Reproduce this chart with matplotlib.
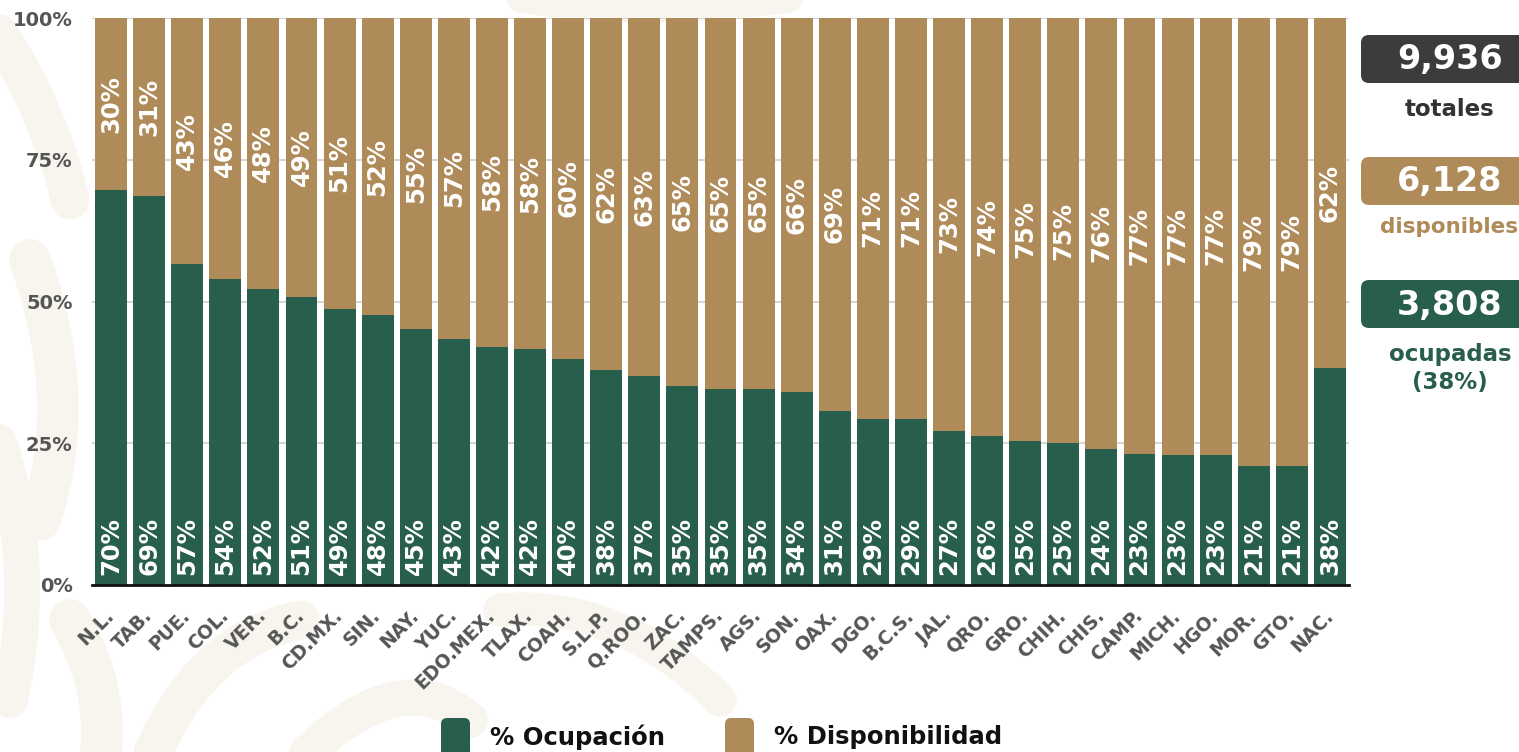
import numpy as np
import matplotlib.pyplot as plt
from matplotlib.patches import FancyBboxPatch

# datos: % de ocupación hospitalaria por entidad
estados = ['N.L.', 'TAB.', 'PUE.', 'COL.', 'VER.', 'B.C.', 'CD.MX.', 'SIN.', 'NAY.', 'YUC.',
           'EDO.MEX.', 'TLAX.', 'COAH.', 'S.L.P.', 'Q.ROO.', 'ZAC.', 'TAMPS.', 'AGS.', 'SON.',
           'OAX.', 'DGO.', 'B.C.S.', 'JAL.', 'QRO.', 'GRO.', 'CHIH.', 'CHIS.', 'CAMP.', 'MICH.',
           'HGO.', 'MOR.', 'GTO.', 'NAC.']
ocupacion = [69.7, 68.6, 56.6, 54.0, 52.2, 50.8, 48.7, 47.6, 45.1, 43.4, 42.0, 41.6, 39.9,
             37.9, 36.9, 35.1, 34.6, 34.6, 34.0, 30.7, 29.3, 29.3, 27.2, 26.3, 25.4, 25.0,
             24.0, 23.1, 23.0, 23.0, 21.0, 21.0, 38.3]
disponibilidad = [30.3, 31.4, 43.4, 46.0, 47.8, 49.2, 51.3, 52.4, 54.9, 56.6, 58.0, 58.4, 60.1,
                  62.1, 63.1, 64.9, 65.4, 65.4, 66.0, 69.3, 70.7, 70.7, 72.8, 73.7, 74.6, 75.0,
                  76.0, 76.9, 77.0, 77.0, 79.0, 79.0, 61.7]
etiq_ocup = [70, 69, 57, 54, 52, 51, 49, 48, 45, 43, 42, 42, 40, 38, 37, 35, 35, 35, 34, 31,
             29, 29, 27, 26, 25, 25, 24, 23, 23, 23, 21, 21, 38]
etiq_disp = [30, 31, 43, 46, 48, 49, 51, 52, 55, 57, 58, 58, 60, 62, 63, 65, 65, 65, 66, 69,
             71, 71, 73, 74, 75, 75, 76, 77, 77, 77, 79, 79, 62]
yticks = [0, 25, 50, 75, 100]

totales = '9,936'
disponibles = '6,128'
ocupadas = '3,808'
pct_ocupadas = '(38%)'

verde = '#285e4c'
cafe = '#b08b5a'
gris = '#555555'
crema = '#f8f5ef'

plt.rcParams['font.family'] = ['DejaVu Sans']
plt.rcParams['font.weight'] = 'bold'

fig = plt.figure(figsize=(15.19, 7.52), dpi=100)
fig.patch.set_facecolor('white')

# fondo decorativo (marca de agua, trazos suaves)
bg = fig.add_axes([0, 0, 1, 1], zorder=0)
bg.set_xlim(0, 1519)
bg.set_ylim(752, 0)
bg.axis('off')
t = np.linspace(0, 1, 60)
trazos = [
    (np.array([-10, 50, 70]), np.array([20, 110, 200]), 28),
    (np.array([30, 80, 40]), np.array([260, 400, 520]), 30),
    (np.array([-5, 40, 10]), np.array([430, 560, 700]), 26),
    (np.array([70, 110, 100]), np.array([620, 690, 760]), 30),
    (np.array([150, 200, 300]), np.array([760, 640, 620]), 28),
    (np.array([300, 400, 470]), np.array([760, 660, 720]), 26),
    (np.array([500, 620, 720]), np.array([610, 600, 700]), 24),
    (np.array([520, 640, 790]), np.array([0, 20, 0]), 18),
]
for px, py, w in trazos:
    cx = (1 - t) ** 2 * px[0] + 2 * (1 - t) * t * px[1] + t ** 2 * px[2]
    cy = (1 - t) ** 2 * py[0] + 2 * (1 - t) * t * py[1] + t ** 2 * py[2]
    bg.plot(cx, cy, color=crema, lw=w, solid_capstyle='round')

ax = fig.add_axes([92/1519, 1-585/752, (1349-92)/1519, 567/752], zorder=1)
x = np.arange(len(estados))
ax.bar(x, ocupacion, width=0.84, color=verde, zorder=2)
ax.bar(x, disponibilidad, width=0.84, bottom=ocupacion, color=cafe, zorder=2)

for i in range(len(estados)):
    ax.text(x[i], 1.8, str(etiq_ocup[i]) + '%', rotation=90, ha='center', va='bottom',
            color='white', fontsize=17.5, fontweight='bold', zorder=3)
    ax.text(x[i], ocupacion[i] + disponibilidad[i] / 2, str(etiq_disp[i]) + '%', rotation=90,
            ha='center', va='center', color='white', fontsize=17.5, fontweight='bold', zorder=3)

ax.set_xlim(-0.5, len(estados) - 0.5)
ax.set_ylim(0, 100)
ax.set_yticks(yticks)
ax.set_yticklabels([str(v) + '%' for v in yticks], color=gris, fontsize=14, fontweight='bold')
ax.set_xticks(x)
ax.set_xticklabels(estados, rotation=45, ha='right', va='center', rotation_mode='anchor',
                   color=gris, fontsize=13.5, fontweight='bold')
ax.tick_params(axis='both', length=0)
ax.tick_params(axis='y', pad=14)
ax.tick_params(axis='x', pad=20)
for v in yticks[1:]:
    ax.axhline(v, color='#d6d6d6', lw=1.5, zorder=1)
for s in ['top', 'right', 'left']:
    ax.spines[s].set_visible(False)
ax.spines['bottom'].set_color('#111111')
ax.spines['bottom'].set_linewidth(2)
ax.spines['bottom'].set_zorder(4)
ax.set_facecolor('none')

# capa en pixeles para recuadros y leyenda
ov = fig.add_axes([0, 0, 1, 1], zorder=5)
ov.set_xlim(0, 1519)
ov.set_ylim(752, 0)
ov.axis('off')
ov.patch.set_alpha(0)

cajas = [(35, '#3c3c3c', totales), (157, cafe, disponibles), (280, verde, ocupadas)]
for y0, c, t in cajas:
    ov.add_patch(FancyBboxPatch((1361, y0), 200, 48, boxstyle='round,pad=0,rounding_size=8',
                                fc=c, ec='none'))
    ov.text(1450, y0 + 25, t, color='white', fontsize=24, fontweight='bold', ha='center', va='center')
ov.text(1450, 110, 'totales', color='#333333', fontsize=16.5, ha='center', va='center')
ov.text(1449, 227, 'disponibles', color=cafe, fontsize=15.5, ha='center', va='center')
ov.text(1450, 354, 'ocupadas', color=verde, fontsize=16.5, ha='center', va='center')
ov.text(1450, 383, pct_ocupadas, color=verde, fontsize=16.5, ha='center', va='center')

# leyenda
for x0, c, t in [(441, verde, '% Ocupación'), (725, cafe, '% Disponibilidad')]:
    ov.add_patch(FancyBboxPatch((x0, 718), 29, 50, boxstyle='round,pad=0,rounding_size=6',
                                fc=c, ec='none'))
    ov.text(x0 + 49, 737, t, color='#111111', fontsize=17.5, ha='left', va='center')

fig.savefig('out.png', dpi=100)
